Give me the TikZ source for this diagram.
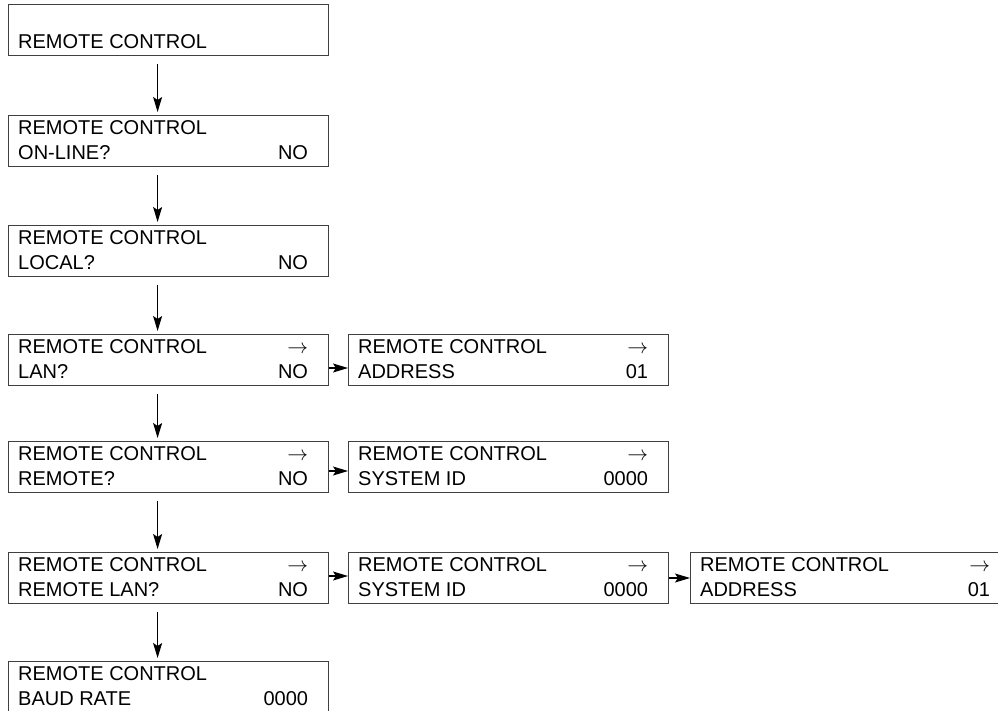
\documentclass[tikz,border=0pt]{standalone}
\usepackage{fontspec}
\setmainfont{Liberation Sans}
\usetikzlibrary{arrows.meta,positioning}

\tikzset{
  panel/.style={draw=black!75,line width=1.2pt,minimum width=320pt,minimum height=51pt,inner sep=0pt,anchor=north west},
  lbl/.style={inner sep=0pt,font=\fontsize{20}{24}\selectfont},
  flow/.style={-{Stealth[length=15pt,width=9pt,inset=3pt]},line width=1.1pt},
}

% panel: name, x, y, top left, top right, bottom left, bottom right
\newcommand{\panel}[7]{%
  \node[panel] (#1) at (#2,#3) {};
  \if\relax\detokenize{#4}\relax\else
    \node[lbl,anchor=base west] (#1-tl) at ([shift={(10,19)}]#1.north west) {#4};\fi
  \if\relax\detokenize{#5}\relax\else
    \node[lbl,anchor=base east] (#1-tr) at ([shift={(-21,19)}]#1.north east) {#5};\fi
  \if\relax\detokenize{#6}\relax\else
    \node[lbl,anchor=base west] (#1-bl) at ([shift={(10,44)}]#1.north west) {#6};\fi
  \if\relax\detokenize{#7}\relax\else
    \node[lbl,anchor=base east] (#1-br) at ([shift={(-21,44)}]#1.north east) {#7};\fi
}

\begin{document}
\begin{tikzpicture}[x=1pt,y=-1pt]
\useasboundingbox (0,0) rectangle (998,710);
\clip (0,0) rectangle (998,710);

% main column
\panel{r1}{8}{4}{}{}{REMOTE CONTROL}{}
\panel{r2}{8}{115}{REMOTE CONTROL}{}{ON-LINE?}{NO}
\panel{r3}{8}{225}{REMOTE CONTROL}{}{LOCAL?}{NO}
\panel{r4}{8}{334}{REMOTE CONTROL}{$\rightarrow$}{LAN?}{NO}
\panel{r5}{8}{441}{REMOTE CONTROL}{$\rightarrow$}{REMOTE?}{NO}
\panel{r6}{8}{552}{REMOTE CONTROL}{$\rightarrow$}{REMOTE LAN?}{NO}
\panel{r7}{8}{661}{REMOTE CONTROL}{}{BAUD RATE}{0000}

% side panels
\panel{lanaddr}{348}{334}{REMOTE CONTROL}{$\rightarrow$}{ADDRESS}{01}
\panel{remsys}{348}{441}{REMOTE CONTROL}{$\rightarrow$}{SYSTEM ID}{0000}
\panel{rlsys}{348}{552}{REMOTE CONTROL}{$\rightarrow$}{SYSTEM ID}{0000}
\panel{rladdr}{690}{552}{REMOTE CONTROL}{$\rightarrow$}{ADDRESS}{01}

% arrows down
\foreach \a/\b in {r1/r2,r2/r3,r3/r4,r4/r5,r5/r6,r6/r7}
  \draw[flow] ([shift={(-11,8)}]\a.south) -- ([shift={(-11,-3)}]\b.north);

% arrows across
\draw[flow] ([shift={(0,34)}]r4.north east) -- ([shift={(0,34)}]lanaddr.north west);
\draw[flow] ([shift={(0,30)}]r5.north east) -- ([shift={(0,30)}]remsys.north west);
\draw[flow] ([shift={(0,24)}]r6.north east) -- ([shift={(0,24)}]rlsys.north west);
\draw[flow] ([shift={(0,26)}]rlsys.north east) -- ([shift={(0,26)}]rladdr.north west);

\end{tikzpicture}
\end{document}
